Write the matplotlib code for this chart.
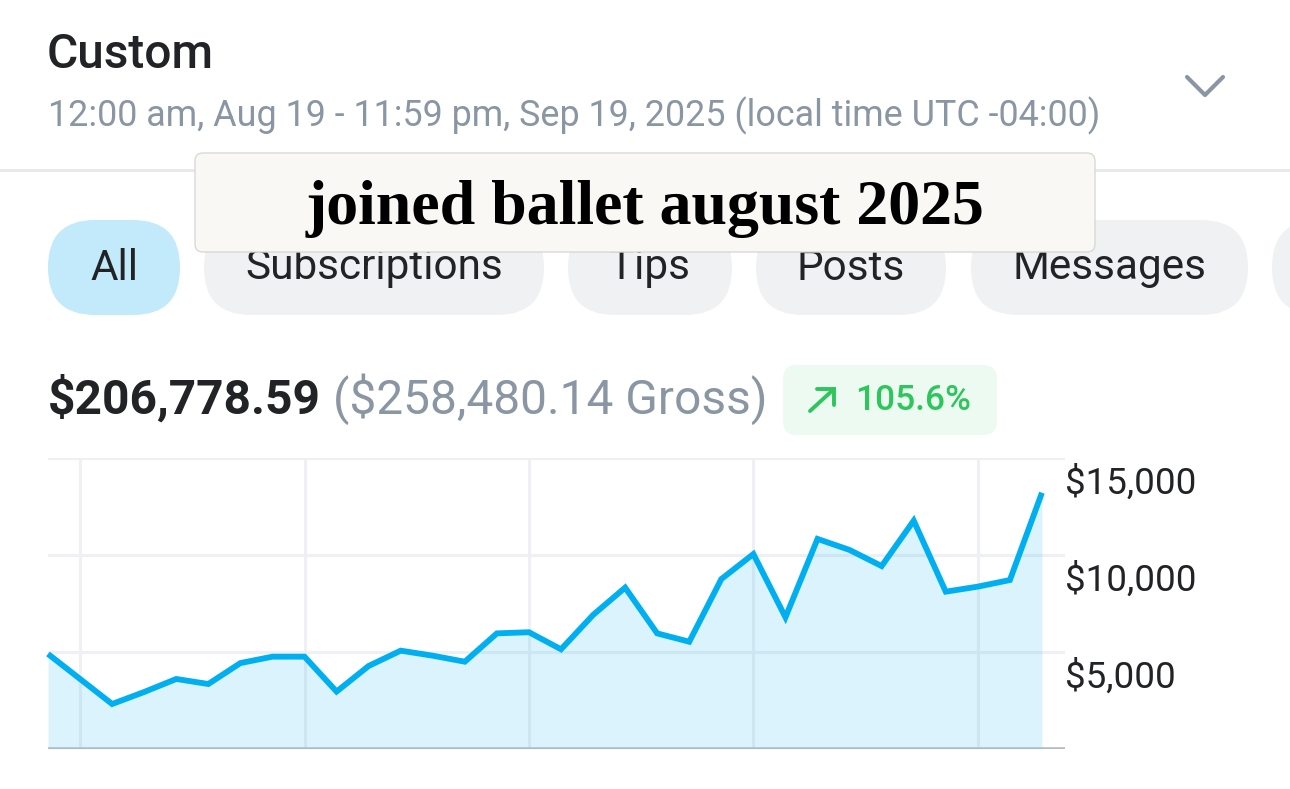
import numpy as np
import matplotlib.pyplot as plt
from matplotlib.patches import FancyBboxPatch
from matplotlib.transforms import blended_transform_factory, offset_copy

plt.rcParams['font.family'] = ['Roboto', 'DejaVu Sans']

# daily net earnings, Aug 19 .. Sep 19
days = np.arange(32)
earnings = [4900, 3610, 2320, 2940, 3610, 3350, 4430, 4760, 4760, 2960,
            4280, 5070, 4810, 4500, 5960, 6020, 5140, 6910, 8320, 5960,
            5530, 8760, 10050, 6790, 10830, 10260, 9430, 11770, 8110, 8370,
            8710, 13210]
week_marks = [1, 8, 15, 22, 29]
y_ticks = [5000, 10000, 15000]
y_labels = ['$5,000', '$10,000', '$15,000']

tabs = ['All', 'Subscriptions', 'Tips', 'Posts', 'Messages', '']
tab_x = [(48, 180), (204, 544), (568, 732), (756, 946), (971, 1248), (1272, 1500)]

W, H = 1290, 789
fig = plt.figure(figsize=(W / 100, H / 100), dpi=100)
fig.patch.set_facecolor('white')

# background layer in pixel coords for the app UI
bg = fig.add_axes([0, 0, 1, 1])
bg.set_xlim(0, W)
bg.set_ylim(H, 0)
bg.axis('off')

dark = '#222326'
grey = '#8a96a3'
green = '#2dc65c'

bg.text(47, 55, 'Custom', fontsize=34.5, fontweight='medium', color=dark,
        va='center', ha='left')
bg.text(48, 116, '12:00 am, Aug 19 - 11:59 pm, Sep 19, 2025 (local time UTC -04:00)',
        fontsize=25.8, color=grey, va='center', ha='left')
bg.plot([1187, 1205, 1223], [77, 95, 77], color=grey, lw=3, solid_capstyle='round',
        solid_joinstyle='round')
bg.plot([0, W], [170, 170], color='#e6e8eb', lw=2)

# tab pills
for i, (name, (x0, x1)) in enumerate(zip(tabs, tab_x)):
    fc = '#c2eafa' if i == 0 else '#f0f1f3'
    bg.add_patch(FancyBboxPatch((x0, 220), x1 - x0, 95,
                                boxstyle='round,pad=0,rounding_size=47',
                                fc=fc, ec='none'))
    if name:
        bg.text((x0 + x1) / 2, 268, name, fontsize=30.4, color=dark,
                ha='center', va='center')

# caption overlay
bg.add_patch(FancyBboxPatch((195, 153), 900, 99,
                            boxstyle='round,pad=0,rounding_size=8',
                            fc='#f9f8f5', ec='#d9d9d6', lw=1, zorder=5))
bg.text(645, 209, 'joined ballet august 2025', fontsize=46, fontweight='bold',
        family=['Liberation Serif', 'DejaVu Serif'], color='black',
        ha='center', va='center', zorder=6)

# totals
bg.text(48, 399, '$206,778.59', fontsize=34.5, fontweight='bold', color=dark,
        va='center', ha='left')
bg.text(333, 399, '($258,480.14 Gross)', fontsize=34.5, color=grey,
        va='center', ha='left')
bg.add_patch(FancyBboxPatch((783, 365), 214, 70,
                            boxstyle='round,pad=0,rounding_size=14',
                            fc='#edfaf1', ec='none'))
bg.plot([810, 834], [411, 389], color=green, lw=2.8, solid_capstyle='round')
bg.plot([817, 834, 834], [389, 389, 405], color=green, lw=2.8,
        solid_capstyle='round', solid_joinstyle='miter')
bg.text(855, 400, '105.6%', fontsize=25.4, fontweight='medium',
        color=green, ha='left', va='center')

# chart
left, right, top, bottom = 48, 1065, 458, 749
ax = fig.add_axes([left / W, 1 - bottom / H, (right - left) / W, (bottom - top) / H])
ax.set_facecolor('none')
ax.set_xlim(0, 31 + (right - 1042) / 32)
ax.set_ylim(0, 15000)
for s in ax.spines.values():
    s.set_visible(False)
ax.set_xticks([])
ax.set_yticks([])

for v in y_ticks:
    ax.axhline(v, color='#eef0f3', lw=2.2, zorder=1)
for d in week_marks:
    ax.axvline(d, color='#eef0f3', lw=2.2, zorder=1)
ax.axhline(0, color='#b3bcc6', lw=2.6, zorder=4)

ax.fill_between(days, earnings, 0, color='#00aff0', alpha=0.14, lw=0, zorder=2)
ax.plot(days, earnings, color='#00aff0', lw=4.2, solid_joinstyle='miter',
        solid_capstyle='butt', zorder=3, clip_on=False)

trans = blended_transform_factory(ax.transAxes, ax.transData)
trans = offset_copy(trans, fig=fig, x=0, y=-26, units='dots')
for v, lab in zip(y_ticks, y_labels):
    ax.text(1.0, v, lab, transform=trans, fontsize=26.5, color=dark,
            ha='left', va='center', clip_on=False)

fig.savefig('out.png', dpi=100)
